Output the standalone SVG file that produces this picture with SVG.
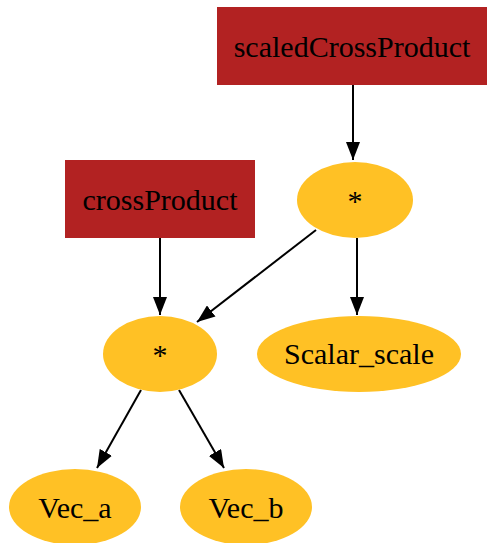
<svg xmlns="http://www.w3.org/2000/svg" width="488" height="543" viewBox="0 0 488 543">
<defs>
<style>
.box{fill:#b22222;}
.ell{fill:#ffc125;}
text{font-family:"Liberation Serif","Times New Roman",serif;font-size:30px;fill:#000;text-anchor:middle;}
.edge{stroke:#000;stroke-width:2;fill:none;}
</style>
<marker id="ah" markerWidth="18" markerHeight="14" refX="18" refY="7" orient="auto" markerUnits="userSpaceOnUse">
<path d="M0,0 L18,7 L0,14 Z" fill="#000"/>
</marker>
</defs>
<rect width="488" height="543" fill="#fff"/>
<g id="connectors">
<line class="edge" x1="353" y1="85" x2="353" y2="160" marker-end="url(#ah)"/>
<line class="edge" x1="160" y1="238" x2="160" y2="315" marker-end="url(#ah)"/>
<line class="edge" x1="316" y1="230" x2="197" y2="322" marker-end="url(#ah)"/>
<line class="edge" x1="357" y1="238" x2="357" y2="315" marker-end="url(#ah)"/>
<line class="edge" x1="141" y1="390" x2="97" y2="468" marker-end="url(#ah)"/>
<line class="edge" x1="179" y1="390" x2="224" y2="468" marker-end="url(#ah)"/>
</g>
<g id="scaledCrossProduct">
<rect class="box" x="217" y="7" width="270" height="78"/>
<text x="352" y="57">scaledCrossProduct</text>
</g>
<g id="crossProduct">
<rect class="box" x="65" y="160" width="190" height="78"/>
<text x="160" y="210">crossProduct</text>
</g>
<g id="mul1">
<ellipse class="ell" cx="355" cy="200" rx="58" ry="38"/>
<text x="355" y="211">*</text>
</g>
<g id="mul2">
<ellipse class="ell" cx="160" cy="354" rx="57" ry="38"/>
<text x="160" y="365">*</text>
</g>
<g id="Scalar_scale">
<ellipse class="ell" cx="359" cy="354" rx="102" ry="38"/>
<text x="359" y="364">Scalar_scale</text>
</g>
<g id="Vec_a">
<ellipse class="ell" cx="75" cy="507" rx="66" ry="38"/>
<text x="75" y="518">Vec_a</text>
</g>
<g id="Vec_b">
<ellipse class="ell" cx="246" cy="507" rx="66" ry="38"/>
<text x="246" y="518">Vec_b</text>
</g>
</svg>
